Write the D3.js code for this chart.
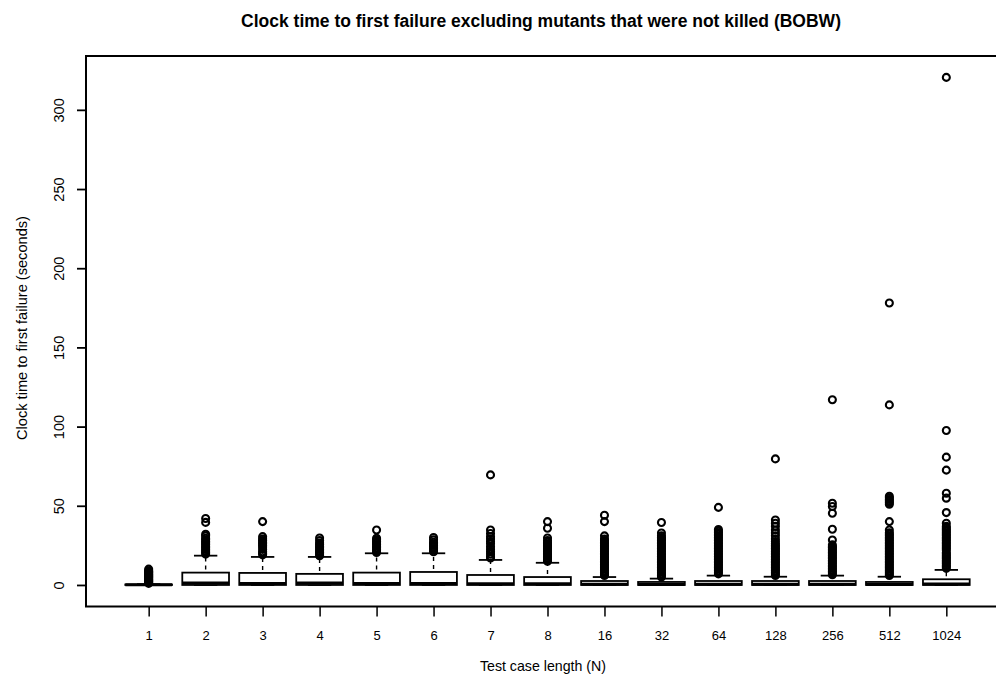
<!DOCTYPE html>
<html>
<head>
<meta charset="utf-8">
<script src="https://cdn.jsdelivr.net/npm/d3@7"></script>
<style>
  body { margin: 0; background: #fff; }
  svg { font-family: "Liberation Sans", Arial, sans-serif; }
</style>
</head>
<body>
<svg id="chart"></svg>
<script>
// test case lengths (x categories)
var categories = ["1", "2", "3", "4", "5", "6", "7", "8", "16", "32", "64", "128", "256", "512", "1024"];

// box stats (seconds)
var lowerWhisker = [0, 0, 0, 0, 0, 0, 0, 0, 0, 0, 0, 0, 0, 0, 0];
var q1 = [0, 0, 0, 0, 0, 0, 0, 0, 0, 0, 0, 0, 0, 0, 0];
var medians = [0.2, 1.2, 1.0, 1.2, 1.0, 1.0, 0.8, 0.8, 0.4, 0.3, 0.4, 0.4, 0.4, 0.3, 0.6];
var q3 = [0.3, 7.8, 7.6, 7.0, 7.8, 8.2, 6.3, 5.0, 2.5, 1.9, 2.5, 2.5, 2.5, 1.9, 3.6];
var upperWhisker = [0.5, 18.5, 17.7, 17.7, 20.0, 20.0, 15.8, 14.0, 5.0, 4.0, 5.9, 5.2, 5.9, 5.2, 9.5];

// outliers per category
var outliers = [
  [1, 1.5, 2, 2.5, 3, 3.5, 4, 4.5, 5, 5.5, 6, 6.5, 7, 7.5, 8, 8.5, 9, 10],
  [19.5, 20.5, 21.5, 22.5, 23.5, 24.5, 25.5, 26.5, 27.5, 28.5, 29.5, 31, 32, 39.5, 42],
  [19, 20, 21, 22.5, 24, 25, 26, 27, 28, 29, 30.5, 40],
  [18.5, 19.5, 20.5, 21.5, 22.5, 23.5, 24.5, 25.5, 26.5, 28, 29.7],
  [20.5, 21.5, 22.5, 23.5, 24.5, 25.5, 26.5, 27.5, 28.5, 29.5, 34.7],
  [21, 22, 23, 24, 25, 26, 27, 28.5, 30],
  [17, 18, 19.5, 21, 22.5, 24.2, 26, 27.4, 29, 30.5, 32.5, 34.7, 69.5],
  [15, 16, 17, 18, 19, 20, 21, 22, 23, 24, 25, 26, 27, 28, 29.7, 35.8, 40],
  [6, 7, 8, 9, 10, 11, 12, 13, 14, 15, 16, 17, 18, 19, 20, 21, 22, 23, 24, 25, 26, 27, 28, 29, 31, 40, 44],
  [5, 6, 7, 8, 9, 10, 11, 12, 13, 14, 15, 16, 17, 18, 19, 20, 21, 22, 23, 24, 25, 26, 27, 28, 29, 30, 31, 32.8, 39.4],
  [7, 8, 9, 10, 11, 12, 13, 14, 15, 16, 17, 18, 19, 20, 21, 22, 23, 24, 25, 26, 27, 28, 29, 30, 31, 32, 33, 34, 35, 49],
  [6, 7, 8, 9, 10, 11, 12, 13, 14, 15, 16, 17, 18, 19, 20, 21, 22, 23, 24, 25, 26, 27.4, 29, 31, 32.8, 34.7, 37, 39, 41, 79.6],
  [6.5, 7.5, 8.5, 9.5, 10.5, 11.5, 12.5, 13.5, 14.5, 15.5, 16.5, 17.5, 18.5, 19.5, 20.5, 21.5, 22.5, 23.5, 24.2, 25.3, 28.4, 35.2, 45.3, 49.5, 51.6, 116.9],
  [6, 7, 8, 9, 10, 11, 12, 13, 14, 15, 16, 17, 18, 19, 20, 21, 22, 23, 24, 25, 26, 27, 28, 29, 30, 31, 32, 33, 34.7, 40, 51, 52, 53, 54, 55, 56, 113.7, 178],
  [10.5, 11.5, 12.5, 13.5, 14.5, 15.5, 16.5, 17.5, 18.5, 19.5, 20.5, 22, 23, 24, 25, 26, 27, 28, 29, 30, 31, 32, 33, 34, 35, 36, 37, 39, 45.7, 54.8, 57.9, 72.5, 80.7, 97.5, 320.5]
];

var yTicks = [0, 50, 100, 150, 200, 250, 300];

var width = 996,
    height = 682;

var plotLeft = 86,
    plotRight = 1009,
    plotTop = 56,
    plotBottom = 606.5;

var chart = d3.select('#chart')
    .attr('width', width)
    .attr('height', height);

var xScale = d3.scalePoint()
    .domain(categories)
    .range([plotLeft, plotRight])
    .padding(1.1);

var yScale = d3.scaleLinear()
    .domain([-13.6, 334])
    .range([plotBottom, plotTop]);

var boxWidth = xScale.step() * 0.82;
var capWidth = boxWidth * 0.5;

// one group per box
var boxes = chart.append('g')
    .selectAll('g')
    .data(categories)
    .enter().append('g')
    .attr('transform', function(d) { return 'translate(' + xScale(d) + ',0)'; });

// dashed whiskers
boxes.append('line')
    .attr('x1', 0).attr('x2', 0)
    .attr('y1', function(d, i) { return yScale(q3[i]); })
    .attr('y2', function(d, i) { return yScale(upperWhisker[i]); })
    .attr('stroke', '#000')
    .attr('stroke-width', 1.4)
    .attr('stroke-dasharray', '4,4')
    .attr('stroke-dashoffset', -3);

boxes.append('line')
    .attr('x1', 0).attr('x2', 0)
    .attr('y1', function(d, i) { return yScale(q1[i]); })
    .attr('y2', function(d, i) { return yScale(lowerWhisker[i]); })
    .attr('stroke', '#000')
    .attr('stroke-width', 1.4)
    .attr('stroke-dasharray', '4,4');

// caps
boxes.append('line')
    .attr('x1', -capWidth / 2).attr('x2', capWidth / 2)
    .attr('y1', function(d, i) { return yScale(upperWhisker[i]); })
    .attr('y2', function(d, i) { return yScale(upperWhisker[i]); })
    .attr('stroke', '#000')
    .attr('stroke-width', 1.8);

boxes.append('line')
    .attr('x1', -capWidth / 2).attr('x2', capWidth / 2)
    .attr('y1', function(d, i) { return yScale(lowerWhisker[i]); })
    .attr('y2', function(d, i) { return yScale(lowerWhisker[i]); })
    .attr('stroke', '#000')
    .attr('stroke-width', 1.8);

// the box itself
boxes.append('rect')
    .attr('x', -boxWidth / 2)
    .attr('width', boxWidth)
    .attr('y', function(d, i) { return yScale(q3[i]); })
    .attr('height', function(d, i) { return yScale(q1[i]) - yScale(q3[i]); })
    .attr('fill', '#fff')
    .attr('stroke', '#000')
    .attr('stroke-width', 1.8);

// medians, thick
boxes.append('line')
    .attr('x1', -boxWidth / 2).attr('x2', boxWidth / 2)
    .attr('y1', function(d, i) { return yScale(medians[i]); })
    .attr('y2', function(d, i) { return yScale(medians[i]); })
    .attr('stroke', '#000')
    .attr('stroke-width', 3);

// outlier circles
boxes.selectAll('circle')
    .data(function(d, i) { return outliers[i]; })
    .enter().append('circle')
    .attr('cx', 0)
    .attr('cy', function(v) { return yScale(v); })
    .attr('r', 3.5)
    .attr('fill', 'none')
    .attr('stroke', '#000')
    .attr('stroke-width', 2.1);

// y axis, labels turned like R does
var yAxis = chart.append('g')
    .attr('transform', 'translate(' + plotLeft + ',0)')
    .call(d3.axisLeft(yScale).tickValues(yTicks).tickSize(9));

yAxis.selectAll('line').attr('stroke-width', 1.8);
yAxis.select('.domain').remove();
yAxis.selectAll('text')
    .attr('transform', 'rotate(-90)')
    .attr('x', 0)
    .attr('y', -22)
    .attr('dy', 0)
    .style('text-anchor', 'middle')
    .style('font-size', '14.5px')
    .style('font-family', '"Liberation Sans", Arial, sans-serif')
    .attr('fill', '#000');

// x axis
var xAxis = chart.append('g')
    .attr('transform', 'translate(0,' + plotBottom + ')')
    .call(d3.axisBottom(xScale).tickSize(10).tickPadding(14));

xAxis.select('.domain').remove();
xAxis.selectAll('line').attr('stroke-width', 1.5);
xAxis.selectAll('text')
    .style('font-size', '13px')
    .style('font-family', '"Liberation Sans", Arial, sans-serif')
    .attr('fill', '#000');

// frame round the plot
chart.append('rect')
    .attr('x', plotLeft)
    .attr('y', plotTop)
    .attr('width', plotRight - plotLeft)
    .attr('height', plotBottom - plotTop)
    .attr('fill', 'none')
    .attr('stroke', '#000')
    .attr('stroke-width', 2);

// titles
chart.append('text')
    .attr('x', 541)
    .attr('y', 27)
    .attr('text-anchor', 'middle')
    .style('font-size', '17.5px')
    .style('font-weight', 'bold')
    .text('Clock time to first failure excluding mutants that were not killed (BOBW)');

chart.append('text')
    .attr('x', 543)
    .attr('y', 671)
    .attr('text-anchor', 'middle')
    .style('font-size', '14.2px')
    .text('Test case length (N)');

chart.append('text')
    .attr('transform', 'translate(27,328) rotate(-90)')
    .attr('text-anchor', 'middle')
    .style('font-size', '14.6px')
    .text('Clock time to first failure (seconds)');
</script>
</body>
</html>
